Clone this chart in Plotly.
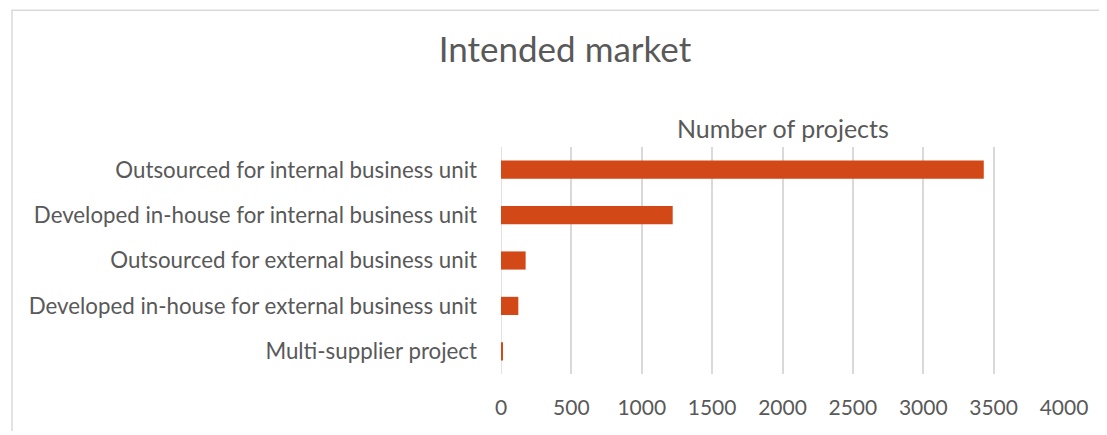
import plotly.graph_objects as go

categories = [
    "Outsourced for internal business unit",
    "Developed in-house for internal business unit",
    "Outsourced for external business unit",
    "Developed in-house for external business unit",
    "Multi-supplier project",
]
projects = [3430, 1220, 175, 123, 10]
x_ticks = [0, 500, 1000, 1500, 2000, 2500, 3000, 3500, 4000]

FONT = "Lato"
GRAY = "#595959"

fig = go.Figure(
    go.Bar(
        x=projects,
        y=categories,
        orientation="h",
        marker=dict(color="#D34817", line=dict(width=0)),
        width=0.4,
    )
)

# page is offset by the 8px body margin
OFF = 8
W, H = 1095, 423
L, T = 501 - OFF, 147 - OFF
R = W - (1064 - OFF)
B = H - (377 - OFF)
pw, ph = W - L - R, H - T - B

fig.update_layout(
    width=W,
    height=H,
    margin=dict(l=L, r=R, t=T, b=B),
    paper_bgcolor="white",
    plot_bgcolor="white",
    showlegend=False,
    font=dict(family=FONT, color=GRAY, size=22),
    title=dict(
        text="Intended market",
        x=(565 - OFF) / W,
        xanchor="center",
        y=1 - (50 - OFF) / H,
        yanchor="middle",
        font=dict(size=35, color=GRAY, family=FONT),
    ),
    xaxis=dict(
        range=[0, 4000],
        tickvals=x_ticks,
        showgrid=True,
        gridcolor="#d9d9d9",
        gridwidth=1.5,
        zeroline=False,
        showline=False,
        ticks="",
        ticklabelstandoff=19,
        tickfont=dict(size=21, color=GRAY),
    ),
    yaxis=dict(
        autorange="reversed",
        showgrid=False,
        zeroline=False,
        showline=False,
        ticks="",
        ticklabelstandoff=23,
        tickfont=dict(size=22.3, color=GRAY),
    ),
    shapes=[
        dict(
            type="rect",
            xref="paper",
            yref="paper",
            x0=(12 - OFF - L) / pw,
            x1=1.3,
            y0=-0.5,
            y1=(H - B - 0.5) / ph,
            line=dict(color="#d9d9d9", width=1.5),
            fillcolor="rgba(0,0,0,0)",
            layer="below",
        ),
        dict(
            type="line",
            xref="x",
            yref="paper",
            x0=0,
            x1=0,
            y0=0,
            y1=1,
            line=dict(color="#d9d9d9", width=1.5),
            layer="below",
        ),
    ],
    annotations=[
        dict(
            text="Number of projects",
            xref="paper",
            yref="paper",
            x=0.5,
            y=(H - B - (128 - OFF)) / ph,
            xanchor="center",
            yanchor="middle",
            showarrow=False,
            font=dict(size=25, color=GRAY, family=FONT),
        )
    ],
)

fig.write_html("out.html")
